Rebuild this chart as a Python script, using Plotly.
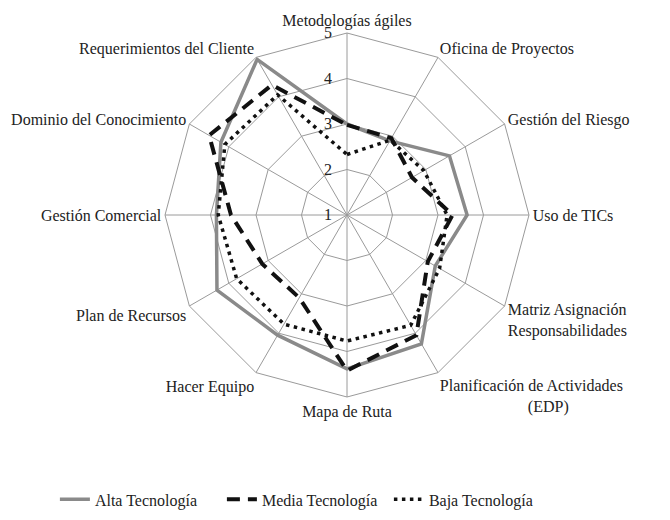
import plotly.graph_objects as go

NB = "\u00a0"
categories = [
    "Metodologías ágiles",
    "Oficina de Proyectos",
    "Gestión del Riesgo",
    "Uso de TICs",
    "Matriz Asignación<br>Responsabilidades",
    "Planificación de Actividades<br>" + NB * 22 + "(EDP)",
    "Mapa de Ruta",
    "Hacer Equipo",
    "Plan de Recursos",
    "Gestión Comercial",
    "Dominio del Conocimiento",
    "Requerimientos del Cliente",
]
alta = [3.0, 2.88, 3.6, 3.64, 3.24, 4.27, 4.38, 4.05, 4.3, 3.87, 4.2, 4.95]
media = [2.98, 2.95, 2.65, 3.32, 3.05, 4.05, 4.42, 3.1, 3.15, 3.55, 4.5, 4.3]
baja = [2.33, 2.9, 2.95, 3.2, 3.35, 3.8, 3.77, 3.77, 3.8, 3.83, 4.1, 4.05]
series_names = ["Alta Tecnología", "Media Tecnología", "Baja Tecnología"]
radial_ticks = [1, 2, 3, 4, 5]

def closed(v):
    return v + v[:1]

cats_closed = closed(categories)

fig = go.Figure()
fig.add_trace(go.Scatterpolar(
    r=closed(alta), theta=cats_closed, mode="lines", name=series_names[0],
    line=dict(color="#8a8a8a", width=3.5)))
fig.add_trace(go.Scatterpolar(
    r=closed(media), theta=cats_closed, mode="lines", name=series_names[1],
    line=dict(color="#111111", width=4, dash="13px,8px")))
fig.add_trace(go.Scatterpolar(
    r=closed(baja), theta=cats_closed, mode="lines", name=series_names[2],
    line=dict(color="#111111", width=3.5, dash="3.5px,4.5px")))

font = dict(family="Liberation Serif", size=16, color="#222222")

fig.update_layout(
    width=670, height=520,
    margin=dict(l=0, r=0, t=0, b=0),
    paper_bgcolor="white",
    plot_bgcolor="white",
    font=font,
    polar=dict(
        domain=dict(x=[157/670, 521/670], y=[1-389/520, 1-25/520]),
        bgcolor="white",
        gridshape="linear",
        angularaxis=dict(
            direction="clockwise", rotation=90, type="category",
            categoryarray=categories,
            showline=True, linecolor="#9a9a9a", linewidth=1,
            gridcolor="#9a9a9a", gridwidth=1,
            ticks="", tickfont=font,
        ),
        radialaxis=dict(
            range=[1, 5], tickvals=radial_ticks,
            ticktext=[str(t) + NB * 3 for t in radial_ticks],
            angle=90, tickangle=90, side="counterclockwise",
            showline=False, ticks="",
            gridcolor="#9a9a9a", gridwidth=1,
            tickfont=font,
        ),
    ),
    legend=dict(
        orientation="h", x=0.07, y=0.055, xanchor="left", yanchor="middle",
        entrywidth=122, entrywidthmode="pixels",
        font=font, bgcolor="rgba(0,0,0,0)",
    ),
)

fig.write_html("out.html")
